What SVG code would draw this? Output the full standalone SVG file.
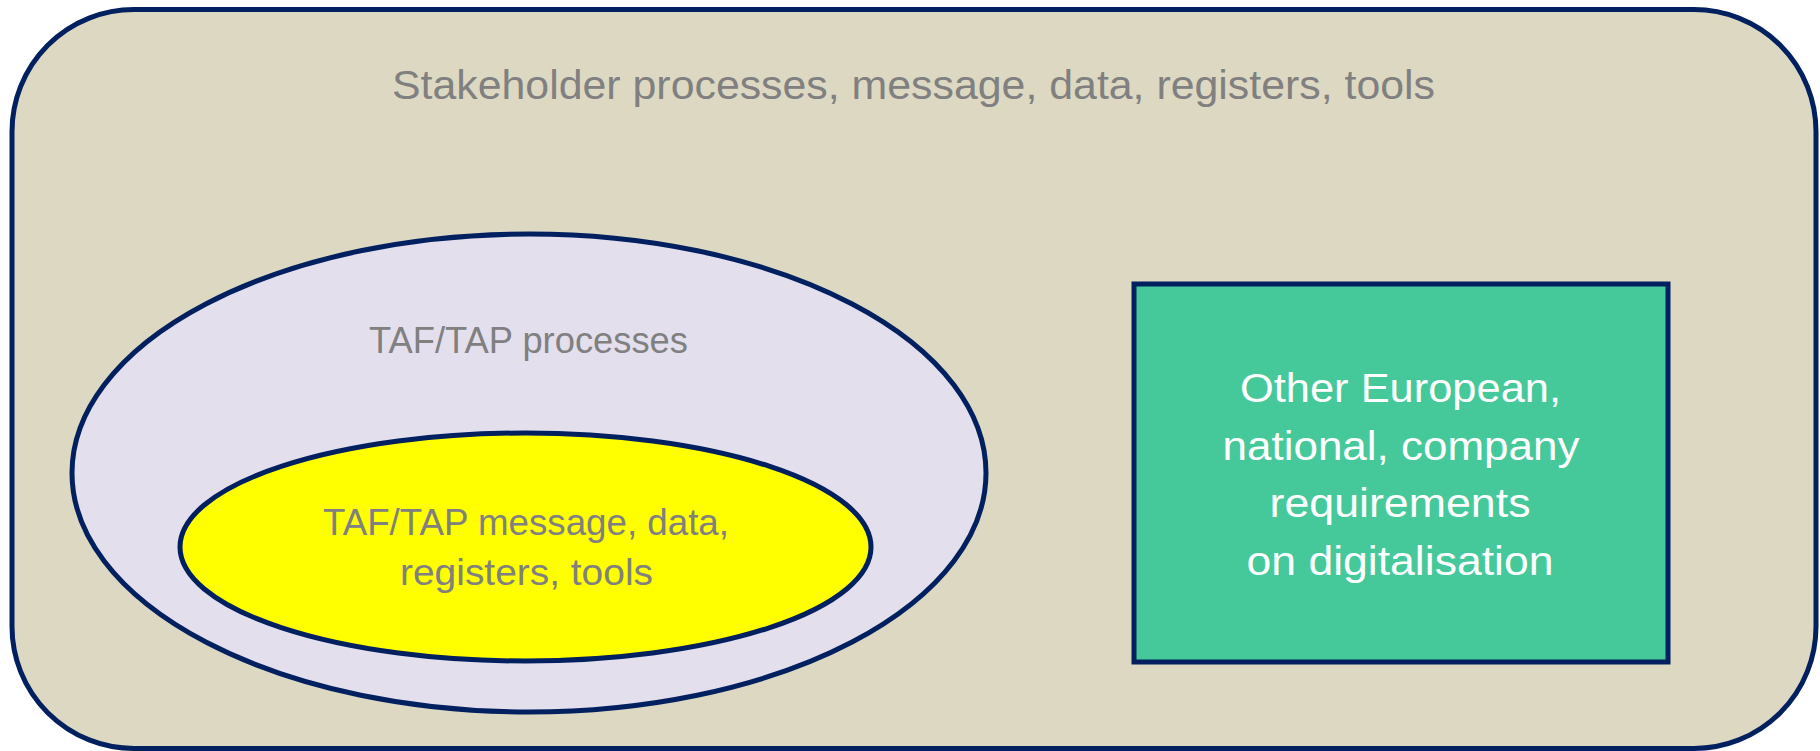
<svg xmlns="http://www.w3.org/2000/svg" width="1820" height="751" viewBox="0 0 1820 751">
<style>
.ln{stroke:#002060;stroke-width:5}
.g{font-family:"Liberation Sans",Arial,sans-serif;fill:#808080;text-anchor:middle}
.w{font-family:"Liberation Sans",Arial,sans-serif;fill:#ffffff;text-anchor:middle}
</style>
<rect width="1820" height="751" fill="#ffffff"/>
<g id="stakeholder">
<rect class="ln" x="12" y="9.5" width="1804" height="739" rx="122" ry="122" fill="#DDD8C2"/>
<text class="g" x="913.5" y="99" font-size="41" textLength="1043" lengthAdjust="spacingAndGlyphs">Stakeholder processes, message, data, registers, tools</text>
</g>
<g id="taftap-processes">
<ellipse class="ln" cx="529" cy="473" rx="457" ry="239" fill="#E4DFEC"/>
<text class="g" x="528.5" y="353" font-size="37" textLength="319" lengthAdjust="spacingAndGlyphs">TAF/TAP processes</text>
</g>
<g id="taftap-message">
<ellipse class="ln" cx="525.5" cy="547" rx="345.5" ry="114" fill="#FFFF00"/>
<text class="g" x="526" y="535" font-size="37" textLength="406" lengthAdjust="spacingAndGlyphs">TAF/TAP message, data,</text>
<text class="g" x="526.5" y="585" font-size="37" textLength="253" lengthAdjust="spacingAndGlyphs">registers, tools</text>
</g>
<g id="other-requirements">
<rect class="ln" x="1134" y="284" width="534" height="378" fill="#46C99A" stroke-width="5.5"/>
<text class="w" x="1400.5" y="402" font-size="41" textLength="321" lengthAdjust="spacingAndGlyphs">Other European,</text>
<text class="w" x="1401" y="460" font-size="41" textLength="357" lengthAdjust="spacingAndGlyphs">national, company</text>
<text class="w" x="1400" y="517" font-size="41" textLength="261" lengthAdjust="spacingAndGlyphs">requirements</text>
<text class="w" x="1400" y="575" font-size="41" textLength="307" lengthAdjust="spacingAndGlyphs">on digitalisation</text>
</g>
<g id="connectors"></g>
</svg>
